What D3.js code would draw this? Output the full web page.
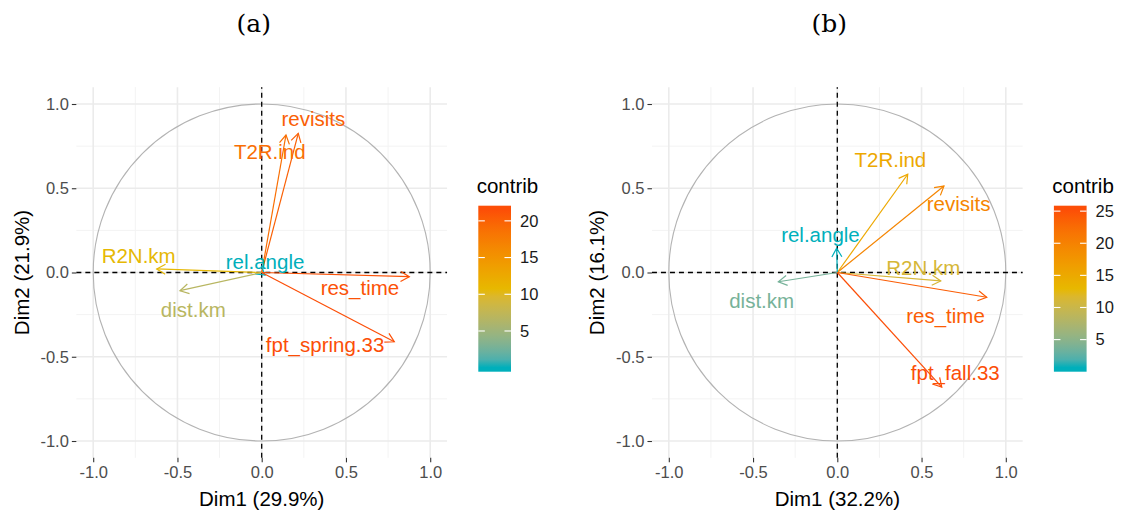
<!DOCTYPE html>
<html>
<head>
<meta charset="utf-8">
<script src="https://cdn.jsdelivr.net/npm/d3@7"></script>
<style>
  body { margin: 0; background: #ffffff; }
  svg { display: block; }
</style>
</head>
<body>
<svg id="chart" width="1122" height="514"></svg>
<script>
// ---- Variable correlation circles: PCA loadings on Dim1 / Dim2 ----

// Panel (a)
const variablesA = ["revisits", "T2R.ind", "R2N.km", "rel.angle", "res_time", "dist.km", "fpt_spring.33"];
const dim1A      = [0.217, 0.144, -0.623, 0.020, 0.876, -0.485, 0.787];
const dim2A      = [0.826, 0.816, 0.021, -0.015, -0.025, -0.108, -0.411];
const contribA   = [20.1, 18.9, 10.7, 0.02, 21.2, 6.8, 21.5];
// repelled label anchors (data units)
const labelDim1A = [0.307, 0.048, -0.730, 0.020, 0.583, -0.406, 0.376];
const labelDim2A = [0.912, 0.715, 0.097, 0.062, -0.091, -0.220, -0.427];
const axisTitleA = ["Dim1 (29.9%)", "Dim2 (21.9%)"];
const legendTicksA = [5, 10, 15, 20];

// Panel (b)
const variablesB = ["T2R.ind", "revisits", "rel.angle", "R2N.km", "dist.km", "res_time", "fpt_fall.33"];
const dim1B      = [0.418, 0.633, -0.004, 0.614, -0.350, 0.887, 0.620];
const dim2B      = [0.583, 0.513, 0.144, -0.050, -0.055, -0.147, -0.680];
const contribB   = [15.2, 19.6, 0.65, 11.2, 3.7, 23.9, 25.2];
const labelDim1B = [0.315, 0.720, -0.100, 0.510, -0.449, 0.642, 0.700];
const labelDim2B = [0.667, 0.409, 0.226, 0.028, -0.170, -0.255, -0.595];
const axisTitleB = ["Dim1 (32.2%)", "Dim2 (16.1%)"];
const legendTicksB = [5, 10, 15, 20, 25];

// Shared
const axisTicks  = [-1.0, -0.5, 0.0, 0.5, 1.0];
const minorTicks = [-0.75, -0.25, 0.25, 0.75];
const gradientColors = ["#00AFBB", "#E7B800", "#FC4E07"];
const panelTitles = ["(a)", "(b)"];

const svg = d3.select("#chart");
const defs = svg.append("defs");
const FONT = "'Liberation Sans', Arial, sans-serif";
let gradId = 0;

function drawPanel(o) {
  const half = 185.35;
  const x = d3.scaleLinear().domain([-1.1, 1.1]).range([o.cx - half, o.cx + half]);
  const y = d3.scaleLinear().domain([-1.1, 1.1]).range([457.85, 87.15]);
  const g = svg.append("g");

  // colour scale: gradient across the contribution range
  const cMin = d3.min(o.contrib), cMax = d3.max(o.contrib);
  const color = d3.scaleLinear()
    .domain([cMin, (cMin + cMax) / 2, cMax])
    .range(gradientColors)
    .interpolate(d3.interpolateLab);

  // grid
  const [x0, x1] = x.range();
  const [y0, y1] = y.range();
  g.selectAll(".minx").data(minorTicks).join("line")
    .attr("x1", d => x(d)).attr("x2", d => x(d)).attr("y1", y0).attr("y2", y1)
    .attr("stroke", "#F3F3F3").attr("stroke-width", 1);
  g.selectAll(".miny").data(minorTicks).join("line")
    .attr("y1", d => y(d)).attr("y2", d => y(d)).attr("x1", x0).attr("x2", x1)
    .attr("stroke", "#F3F3F3").attr("stroke-width", 1);
  g.selectAll(".majx").data(axisTicks).join("line")
    .attr("x1", d => x(d)).attr("x2", d => x(d)).attr("y1", y0).attr("y2", y1)
    .attr("stroke", "#EBEBEB").attr("stroke-width", 1.6);
  g.selectAll(".majy").data(axisTicks).join("line")
    .attr("y1", d => y(d)).attr("y2", d => y(d)).attr("x1", x0).attr("x2", x1)
    .attr("stroke", "#EBEBEB").attr("stroke-width", 1.6);

  // unit circle
  g.append("ellipse")
    .attr("cx", x(0)).attr("cy", y(0))
    .attr("rx", x(1) - x(0)).attr("ry", y(0) - y(1))
    .attr("fill", "none").attr("stroke", "#B3B3B3").attr("stroke-width", 1.1);

  // dashed reference lines
  g.append("line").attr("x1", x0).attr("x2", x1).attr("y1", y(0)).attr("y2", y(0))
    .attr("stroke", "#000").attr("stroke-width", 1.3).attr("stroke-dasharray", "5,4");
  g.append("line").attr("x1", x(0)).attr("x2", x(0)).attr("y1", y0).attr("y2", y1)
    .attr("stroke", "#000").attr("stroke-width", 1.3).attr("stroke-dasharray", "5,4");

  // arrows
  const rows = o.vars.map((v, i) => ({
    name: v, d1: o.d1[i], d2: o.d2[i], c: o.contrib[i], lx: o.lx[i], ly: o.ly[i]
  }));
  const headLen = 10, headAng = Math.PI / 6;
  rows.forEach(r => {
    const ox = x(0), oy = y(0), tx = x(r.d1), ty = y(r.d2);
    const a = Math.atan2(ty - oy, tx - ox);
    const col = color(r.c);
    g.append("line").attr("x1", ox).attr("y1", oy).attr("x2", tx).attr("y2", ty)
      .attr("stroke", col).attr("stroke-width", 1.2);
    const p1 = [tx - headLen * Math.cos(a - headAng), ty - headLen * Math.sin(a - headAng)];
    const p2 = [tx - headLen * Math.cos(a + headAng), ty - headLen * Math.sin(a + headAng)];
    g.append("path")
      .attr("d", `M${p1[0]},${p1[1]}L${tx},${ty}L${p2[0]},${p2[1]}`)
      .attr("fill", "none").attr("stroke", col).attr("stroke-width", 1.2)
      .attr("stroke-linejoin", "miter");
  });

  // variable labels
  g.selectAll(".vlab").data(rows).join("text")
    .attr("x", d => x(d.lx)).attr("y", d => y(d.ly)).attr("dy", "0.35em")
    .attr("text-anchor", "middle")
    .attr("font-family", FONT).attr("font-size", 20.5)
    .attr("fill", d => color(d.c))
    .text(d => d.name);

  // axes
  const fmt = d => d.toFixed(1);
  const ax = g.append("g").attr("transform", `translate(0,${y0})`)
    .call(d3.axisBottom(x).tickValues(axisTicks).tickFormat(fmt).tickSize(4.5).tickPadding(4));
  const ay = g.append("g").attr("transform", `translate(${x0},0)`)
    .call(d3.axisLeft(y).tickValues(axisTicks).tickFormat(fmt).tickSize(4.5).tickPadding(3));
  [ax, ay].forEach(a => {
    a.select(".domain").remove();
    a.selectAll(".tick line").attr("stroke", "#333333").attr("stroke-width", 1.1);
    a.selectAll(".tick text").attr("fill", "#4D4D4D")
      .attr("font-family", FONT).attr("font-size", 16.5);
  });

  // axis titles
  g.append("text").attr("x", o.cx).attr("y", 506)
    .attr("text-anchor", "middle").attr("font-family", FONT).attr("font-size", 20.5)
    .attr("fill", "#000").text(o.titles[0]);
  g.append("text")
    .attr("transform", `translate(${o.cx - 232.9},${y(0)}) rotate(-90)`)
    .attr("text-anchor", "middle").attr("font-family", FONT).attr("font-size", 20.5)
    .attr("fill", "#000").text(o.titles[1]);

  // panel title
  g.append("text").attr("x", o.cx - 8).attr("y", 32)
    .attr("text-anchor", "middle").attr("font-family", "'DejaVu Serif', serif")
    .attr("font-size", 25).attr("fill", "#000").text(o.panelTitle);

  // colour bar legend
  const barX = o.cx + 216.6, barW = 32.7, barTop = 205.7, barBot = 371.7;
  const barLen = barBot - barTop;
  // value -> vertical position (limits sit half a bin in from each end)
  const ly = d3.scaleLinear().domain([cMin, cMax])
    .range([barBot - 0.025 * barLen, barTop + 0.025 * barLen]);
  const id = "cbar" + (gradId++);
  const grad = defs.append("linearGradient")
    .attr("id", id).attr("x1", 0).attr("y1", 1).attr("x2", 0).attr("y2", 0);
  grad.append("stop").attr("offset", 0).attr("stop-color", color(cMin));
  d3.range(0, 1.0001, 0.05).forEach(t => {
    grad.append("stop").attr("offset", 0.025 + 0.95 * t)
      .attr("stop-color", color(cMin + t * (cMax - cMin)));
  });
  grad.append("stop").attr("offset", 1).attr("stop-color", color(cMax));
  g.append("rect").attr("x", barX).attr("y", barTop).attr("width", barW).attr("height", barLen)
    .attr("fill", `url(#${id})`);
  o.legendTicks.forEach(v => {
    const yy = ly(v);
    g.append("line").attr("x1", barX).attr("x2", barX + barW / 5).attr("y1", yy).attr("y2", yy)
      .attr("stroke", "#fff").attr("stroke-width", 1.1);
    g.append("line").attr("x1", barX + barW - barW / 5).attr("x2", barX + barW).attr("y1", yy).attr("y2", yy)
      .attr("stroke", "#fff").attr("stroke-width", 1.1);
    g.append("text").attr("x", barX + barW + 9).attr("y", yy).attr("dy", "0.35em")
      .attr("font-family", FONT).attr("font-size", 16.5).attr("fill", "#1A1A1A").text(v);
  });
  g.append("text").attr("x", barX - 1.6).attr("y", 192.7)
    .attr("font-family", FONT).attr("font-size", 20.5).attr("fill", "#000").text("contrib");
}

drawPanel({
  cx: 261.7, vars: variablesA, d1: dim1A, d2: dim2A, contrib: contribA,
  lx: labelDim1A, ly: labelDim2A, titles: axisTitleA, legendTicks: legendTicksA,
  panelTitle: panelTitles[0]
});
drawPanel({
  cx: 837.3, vars: variablesB, d1: dim1B, d2: dim2B, contrib: contribB,
  lx: labelDim1B, ly: labelDim2B, titles: axisTitleB, legendTicks: legendTicksB,
  panelTitle: panelTitles[1]
});
</script>
</body>
</html>
